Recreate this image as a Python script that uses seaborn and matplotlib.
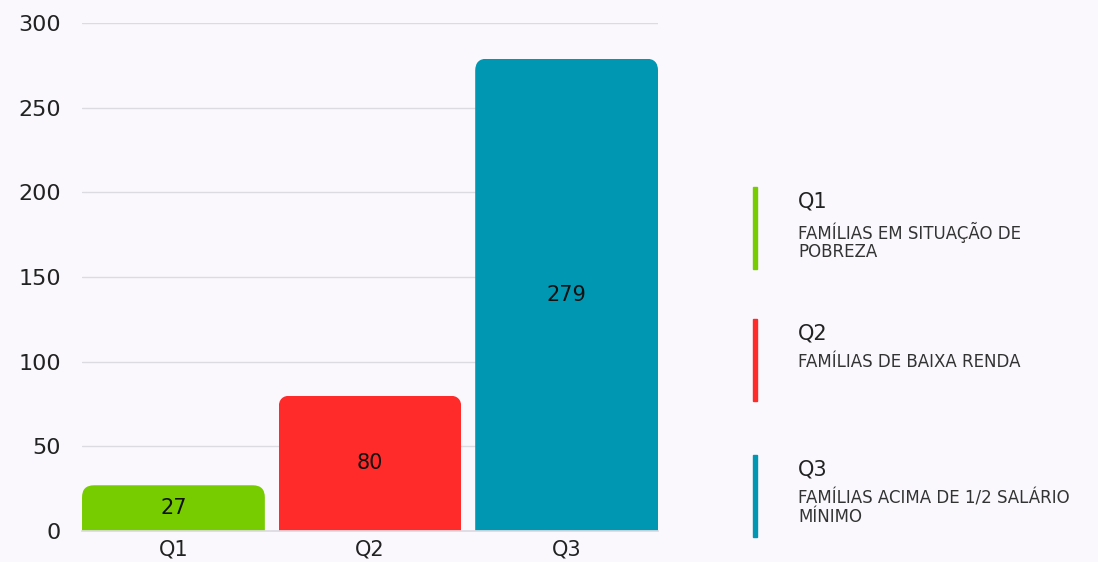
import matplotlib
matplotlib.use("Agg")
import matplotlib.pyplot as plt
import seaborn as sns
import pandas as pd
from matplotlib.patches import FancyBboxPatch, Rectangle

categories = ["Q1", "Q2", "Q3"]
values = [27, 80, 279]
colors = ["#77CC00", "#FF2A2A", "#0097B2"]
legend_titles = ["Q1", "Q2", "Q3"]
legend_descs = ["FAMÍLIAS EM SITUAÇÃO DE\nPOBREZA",
                "FAMÍLIAS DE BAIXA RENDA",
                "FAMÍLIAS ACIMA DE 1/2 SALÁRIO\nMÍNIMO"]
yticks = [0, 50, 100, 150, 200, 250, 300]

bg = "#FAF8FD"
sns.set_theme(style="white")
plt.rcParams["font.family"] = ["DejaVu Sans"]

fig = plt.figure(figsize=(10.98, 5.62), dpi=100, facecolor=bg)
ax = fig.add_axes([0.0747, 0.0552, 0.5246, 0.9038], facecolor=bg)

df = pd.DataFrame({"cat": categories, "val": values})
sns.barplot(data=df, x="cat", y="val", hue="cat", palette=colors,
            width=0.93, legend=False, ax=ax, saturation=1)

ax.set_xlim(-0.465, 2.465)
ax.set_ylim(0, 300)
ax.set_yticks(yticks)
ax.set_xlabel("")
ax.set_ylabel("")
ax.grid(axis="y", color="#DDDBE2", linewidth=1)
ax.set_axisbelow(True)
for s in ["top", "right", "left"]:
    ax.spines[s].set_visible(False)
ax.spines["bottom"].set_color("#DDDBE2")
ax.tick_params(axis="y", length=0, pad=15, labelsize=16, labelcolor="#222222")
ax.tick_params(axis="x", length=0, pad=6, labelsize=15, labelcolor="#222222")

# round top corners of bars via clip paths
fig.canvas.draw()
for p in ax.patches:
    x, y = p.get_x(), p.get_y()
    w, h = p.get_width(), p.get_height()
    r_px = 12
    t = ax.transData
    x0, y0 = t.transform((x, y))
    x1, y1 = t.transform((x + w, y + h))
    clip = FancyBboxPatch((x0, y0 - 40), x1 - x0, (y1 - y0) + 40,
                          boxstyle=f"round,pad=0,rounding_size={r_px}",
                          transform=None, facecolor="none", edgecolor="none")
    p.set_clip_path(clip)
    p.set_edgecolor("none")

for i, v in enumerate(values):
    ax.text(i, v / 2, str(v), ha="center", va="center", fontsize=15,
            color="#111111")

# legend
leg_tops = [0.667, 0.432, 0.190]
for i in range(3):
    top = leg_tops[i]
    fig.patches.append(Rectangle((0.686, top - 0.146), 0.0036, 0.146,
                                 transform=fig.transFigure, color=colors[i]))
    fig.text(0.727, top - 0.026, legend_titles[i], fontsize=15,
             color="#222222", va="center", ha="left")
    fig.text(0.727, top - 0.061, legend_descs[i], fontsize=12,
             color="#333333", va="top", ha="left", linespacing=1.05)

fig.savefig("out.png", dpi=100, facecolor=bg)
